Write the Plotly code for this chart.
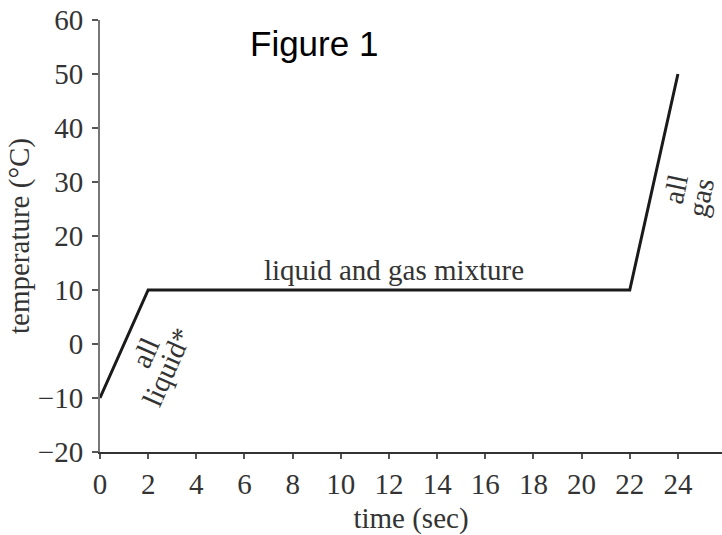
import plotly.graph_objects as go

# Data
time_sec = [0, 2, 22, 24]
temperature_c = [-10, 10, 10, 50]
x_ticks = list(range(0, 26, 2))
y_ticks = list(range(-20, 61, 10))
phase_labels = ["all", "liquid*", "liquid and gas mixture", "all", "gas"]

SERIF = "Liberation Serif, Times New Roman, serif"
TXT = "#333333"
FS = 29

fig = go.Figure()
fig.add_trace(go.Scatter(
    x=time_sec, y=temperature_c, mode="lines",
    line=dict(color="#1a1a1a", width=3),
    showlegend=False, hoverinfo="skip", cliponaxis=False,
))

fig.update_layout(
    width=722, height=535,
    margin=dict(l=100, r=0, t=20, b=83, autoexpand=False),
    paper_bgcolor="white", plot_bgcolor="white",
    font=dict(family=SERIF, size=FS, color=TXT),
    xaxis=dict(
        range=[0, 25.83], tickmode="array", tickvals=x_ticks,
        showgrid=False, zeroline=False, showline=True, linecolor="#333333", linewidth=2,
        ticks="outside", ticklen=5, tickwidth=1.5, tickcolor="#555555",
        tickfont=dict(family=SERIF, size=FS, color=TXT),
        title=dict(text="time (sec)", standoff=10, font=dict(family=SERIF, size=FS, color=TXT)),
        automargin=False, fixedrange=True,
    ),
    yaxis=dict(
        range=[-20, 60], tickmode="array", tickvals=y_ticks,
        showgrid=False, zeroline=False, showline=True, linecolor="#777777", linewidth=2,
        ticks="outside", ticklen=6, tickwidth=1.5, tickcolor="#555555",
        tickfont=dict(family=SERIF, size=FS, color=TXT),
        ticklabelstandoff=3,
        title=dict(text="temperature (°C)", standoff=0, font=dict(family=SERIF, size=FS, color=TXT)),
        automargin=False, fixedrange=True,
    ),
)

ann = dict(showarrow=False, xanchor="center", yanchor="middle",
           font=dict(family=SERIF, size=FS, color=TXT))
fig.add_annotation(x=1.87, y=-1.67, text=phase_labels[0], textangle=-66, **ann)
fig.add_annotation(x=2.78, y=-4.26, text=phase_labels[1], textangle=-66, **ann)
fig.add_annotation(x=12.2, y=13.7, text=phase_labels[2], **ann)
fig.add_annotation(x=23.9, y=28.7, text=phase_labels[3], textangle=-78, **ann)
fig.add_annotation(x=24.95, y=27.2, text=phase_labels[4], textangle=-78, **ann)
fig.add_annotation(x=8.89, y=55.6, text="Figure 1", showarrow=False,
                   xanchor="center", yanchor="middle",
                   font=dict(family="Liberation Sans, Arial, sans-serif", size=35, color="black"))

fig.write_html("out.html", config={"displayModeBar": False},
               post_script="document.body.style.margin='0px';")
